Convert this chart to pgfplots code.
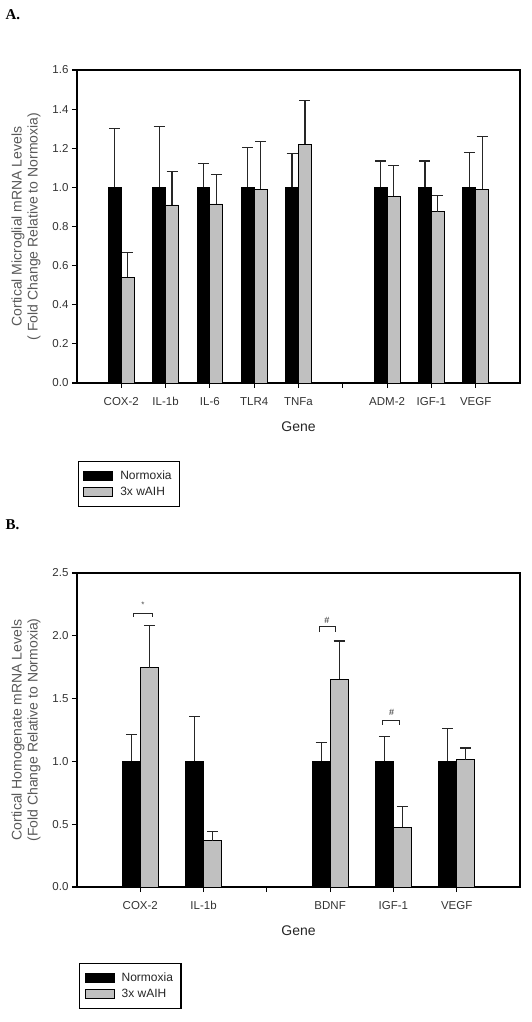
\documentclass[border=0pt]{standalone}
\usepackage{fontspec}
\setmainfont{Liberation Sans}
\newfontfamily\serifbold{Liberation Serif}
\usepackage{pgfplots}
\pgfplotsset{compat=1.18}
\definecolor{wgray}{RGB}{192,192,192}
\pgfplotsset{
  mybase/.style={
    scale only axis, width=443pt,
    axis line style={line width=1.2pt},
    tick align=outside, xtick pos=bottom, ytick pos=left,
    major tick length=5pt,
    tick style={line width=1.1pt, black},
    ymin=0,
    ticklabel style={font=\fontsize{11.5}{13}\selectfont, text=black!80},
    xticklabel style={yshift=-6pt},
    /pgf/number format/assume math mode=true,
    yticklabel style={/pgf/number format/fixed, /pgf/number format/precision=1, /pgf/number format/fixed zerofill},
    xlabel={Gene},
    xlabel style={font=\fontsize{14}{16}\selectfont, text=black!85, at={(axis description cs:0.5,-0.14)}, anchor=center},
    ylabel style={font=\fontsize{14}{16}\selectfont, text=black!65, align=center, at={(axis description cs:-0.115,0.5)}, anchor=center},
    legend cell align=left,
    legend image code/.code={\draw[#1, line width=0.8pt] (0pt,-4.5pt) rectangle (29pt,4.5pt);},
    legend style={draw=black, line width=1.2pt, inner xsep=5pt, inner ysep=8pt, row sep=3pt,
      nodes={inner xsep=3pt, inner ysep=1.5pt},
      font=\fontsize{12}{14}\selectfont, text=black!85, anchor=north west},
  },
  errb/.style={error bars/.cd, y dir=plus, y explicit,
    error bar style={line width=1.2pt, black!85},
    error mark options={rotate=90, line width=1.2pt, black!85, mark size=5.5pt}},
}
\begin{document}
\begin{tikzpicture}
\path[use as bounding box] (0pt,0pt) rectangle (531pt,1022pt);
\node[anchor=west, font=\serifbold\bfseries\fontsize{15}{15}\selectfont] at (2pt,1007pt) {A.};
\node[anchor=west, font=\serifbold\bfseries\fontsize{15}{15}\selectfont] at (2pt,497pt) {B.};

% Panel A
\begin{axis}[mybase, at={(77pt,639pt)}, anchor=south west, height=313pt,
  xmin=-1, xmax=9, ymax=1.6,
  ytick={0,0.2,0.4,0.6,0.8,1.0,1.2,1.4,1.6},
  xtick={0,1,2,3,4,5,6,7,8},
  xticklabels={COX-2,IL-1b,IL-6,TLR4,TNFa,,ADM-2,IGF-1,VEGF},
  ylabel={Cortical Microglial mRNA Levels\\( Fold Change Relative to Normoxia)},
  legend style={at={(axis description cs:0.002,-0.249)}},
]
\addplot[ybar, bar width=0.29, bar shift=0pt, fill=black, draw=black, line width=0.8pt, errb]
  coordinates {(-0.145,1) +- (0,0.30) (0.855,1) +- (0,0.31) (1.855,1) +- (0,0.12) (2.855,1) +- (0,0.205)
               (3.855,1) +- (0,0.175) (5.855,1) +- (0,0.135) (6.855,1) +- (0,0.135) (7.855,1) +- (0,0.18)};
\addplot[ybar, bar width=0.29, bar shift=0pt, fill=wgray, draw=black, line width=0.8pt, errb]
  coordinates {(0.145,0.54) +- (0,0.126) (1.145,0.91) +- (0,0.17) (2.145,0.915) +- (0,0.152) (3.145,0.99) +- (0,0.244)
               (4.145,1.22) +- (0,0.223) (6.145,0.955) +- (0,0.158) (7.145,0.875) +- (0,0.083) (8.145,0.99) +- (0,0.268)};
\legend{\hspace{4pt}Normoxia\hspace{6pt},\hspace{4pt}3x wAIH}
\end{axis}

% Panel B
\begin{axis}[mybase, at={(77pt,135pt)}, anchor=south west, height=314pt,
  xmin=-1, xmax=6, ymax=2.5,
  ytick={0,0.5,1.0,1.5,2.0,2.5},
  xtick={0,1,2,3,4,5},
  xticklabels={COX-2,IL-1b,,BDNF,IGF-1,VEGF},
  ylabel={Cortical Homogenate mRNA Levels\\(Fold Change Relative to Normoxia)},
  legend style={at={(axis description cs:0.005,-0.242)}},
]
\addplot[ybar, bar width=0.285, bar shift=0pt, fill=black, draw=black, line width=0.8pt, errb]
  coordinates {(-0.1425,1) +- (0,0.211) (0.8575,1) +- (0,0.356) (2.8575,1) +- (0,0.153) (3.8575,1) +- (0,0.20) (4.8575,1) +- (0,0.259)};
\addplot[ybar, bar width=0.285, bar shift=0pt, fill=wgray, draw=black, line width=0.8pt, errb]
  coordinates {(0.1425,1.747) +- (0,0.332) (1.1425,0.369) +- (0,0.071) (3.1425,1.654) +- (0,0.304) (4.1425,0.475) +- (0,0.166) (5.1425,1.013) +- (0,0.093)};
\legend{\hspace{4pt}Normoxia\hspace{6pt},\hspace{4pt}3x wAIH}
\draw[line width=1pt, black!85] (axis cs:-0.11,2.15) -- (axis cs:-0.11,2.177) -- (axis cs:0.19,2.177) -- (axis cs:0.19,2.15);
\node[font=\fontsize{8}{8}\selectfont, text=black!70] at (axis cs:0.04,2.25) {*};
\draw[line width=1pt, black!85] (axis cs:2.83,2.03) -- (axis cs:2.83,2.071) -- (axis cs:3.09,2.071) -- (axis cs:3.09,2.03);
\node[font=\fontsize{9}{9}\selectfont, text=black!85] at (axis cs:2.95,2.125) {\#};
\draw[line width=1pt, black!85] (axis cs:3.83,1.29) -- (axis cs:3.83,1.325) -- (axis cs:4.1,1.325) -- (axis cs:4.1,1.29);
\node[font=\fontsize{9}{9}\selectfont, text=black!85] at (axis cs:3.97,1.39) {\#};
\end{axis}
\end{tikzpicture}
\end{document}
